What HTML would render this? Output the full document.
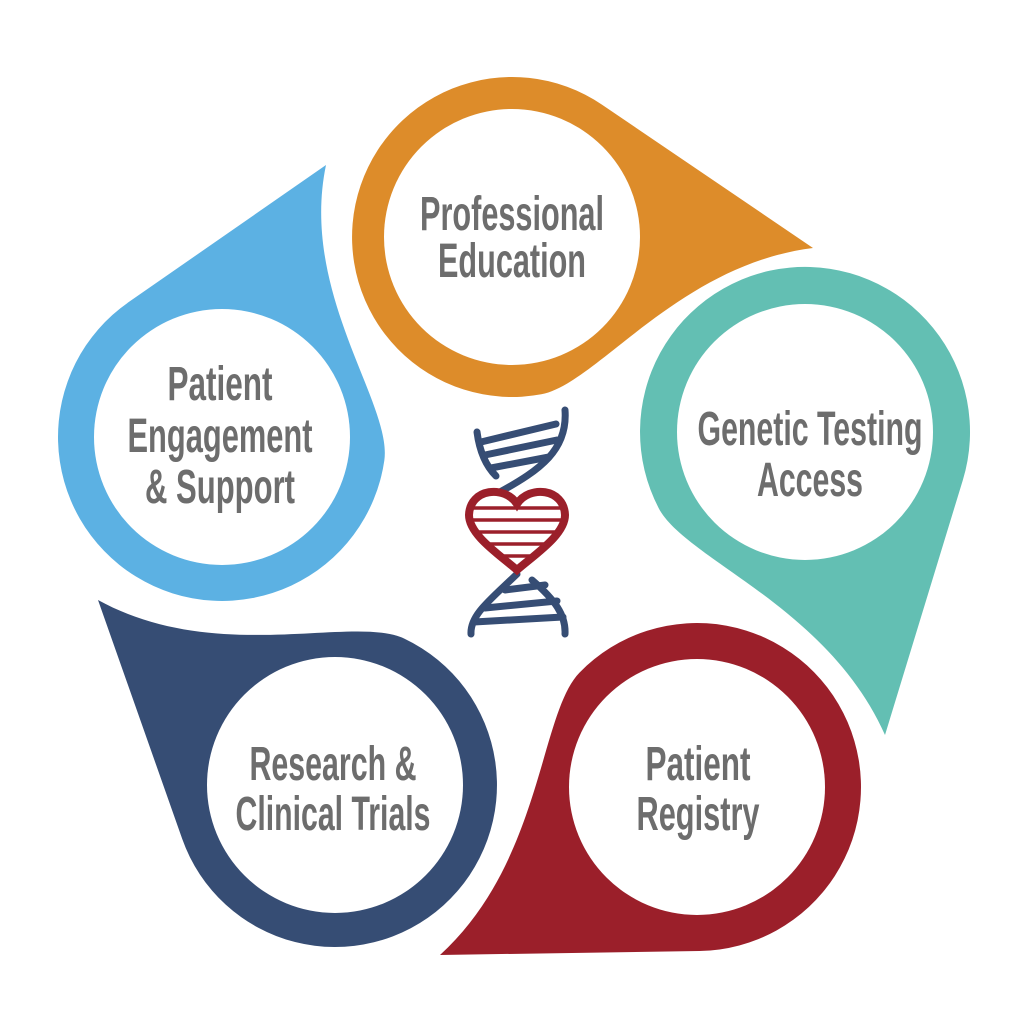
<!DOCTYPE html>
<html><head><meta charset="utf-8"><style>
html,body{margin:0;padding:0;background:#fff;width:1024px;height:1024px;overflow:hidden}
text{font-family:"Liberation Sans Narrow","Liberation Sans",sans-serif;font-weight:bold;fill:#6d6d6d;font-size:48px;text-anchor:middle}
</style></head><body>
<svg id="s" width="1024" height="1024" viewBox="0 0 1024 1024" xmlns="http://www.w3.org/2000/svg">
<g id="shapes"></g>
<g fill="none" stroke="#364d74" stroke-width="7" stroke-linecap="round">
<path d="M477,432 C480,455 488,468 496,476"/>
<path d="M565,410 C568,450 540,470 500,492"/>
<path d="M481,442 L556,424 M485,455 L557,440 M491,468 L549,457"/>
<path d="M517,574 C490,600 470,615 471,634"/>
<path d="M532,580 C555,600 566,615 565,634"/>
<path d="M505,590 L545,585 M485,608 L557,601 M474,622 L563,617"/>
</g>
<g>
<path d="M517,504 C505,485 470,488 469,515 C469,535 500,555 517,570 C534,555 565,535 565,515 C564,488 529,485 517,504 Z" fill="#fff" stroke="#9b1f2a" stroke-width="8"/>
<g stroke="#9b1f2a" stroke-width="3.5">
<line x1="472" y1="508" x2="562" y2="508"/><line x1="471" y1="520" x2="563" y2="520"/>
<line x1="474" y1="532" x2="560" y2="532"/><line x1="484" y1="544" x2="550" y2="544"/>
<line x1="496" y1="556" x2="538" y2="556"/>
</g></g>
<text x="512" y="230" textLength="184" lengthAdjust="spacingAndGlyphs">Professional</text>
<text x="512" y="277" textLength="148" lengthAdjust="spacingAndGlyphs">Education</text>
<text x="810" y="445" textLength="225" lengthAdjust="spacingAndGlyphs">Genetic Testing</text>
<text x="810" y="496" textLength="106" lengthAdjust="spacingAndGlyphs">Access</text>
<text x="698" y="780" textLength="105" lengthAdjust="spacingAndGlyphs">Patient</text>
<text x="698" y="830" textLength="123" lengthAdjust="spacingAndGlyphs">Registry</text>
<text x="333" y="780" textLength="167" lengthAdjust="spacingAndGlyphs">Research &amp;</text>
<text x="333" y="830" textLength="195" lengthAdjust="spacingAndGlyphs">Clinical Trials</text>
<text x="220" y="400" textLength="105" lengthAdjust="spacingAndGlyphs">Patient</text>
<text x="220" y="452" textLength="185" lengthAdjust="spacingAndGlyphs">Engagement</text>
<text x="220" y="503" textLength="150" lengthAdjust="spacingAndGlyphs">&amp; Support</text>
</svg>
<script>
var D=[[512,237,160,813,248,"#dd8c2a"],[805,432,165,885,735,"#63bfb3"],[697,787,164,440,955,"#9b1f2a"],[335,785,162,98,600,"#364d74"],[222,437,164,326,165,"#5cb1e3"]];
var g=document.getElementById("shapes"),h="";
function f(v){return v.toFixed(1)}
D.forEach(function(a){
 var cx=a[0],cy=a[1],r=a[2],tx=a[3],ty=a[4];
 var dx=tx-cx,dy=ty-cy,d=Math.hypot(dx,dy),th=Math.atan2(dy,dx);
 var al=Math.acos(r/d);
 var a1=th-al,a2=th+1.35;
 var p1=[cx+r*Math.cos(a1),cy+r*Math.sin(a1)];
 var p2=[cx+r*Math.cos(a2),cy+r*Math.sin(a2)];
 var bt=th+Math.PI-0.16;
 var c1=[tx+0.45*d*Math.cos(bt),ty+0.45*d*Math.sin(bt)];
 var tg=a2-Math.PI/2;
 var c2=[p2[0]+0.35*r*Math.cos(tg),p2[1]+0.35*r*Math.sin(tg)];
 h+='<path fill="'+a[5]+'" d="M'+f(p1[0])+','+f(p1[1])+' L'+tx+','+ty+' C'+f(c1[0])+','+f(c1[1])+' '+f(c2[0])+','+f(c2[1])+' '+f(p2[0])+','+f(p2[1])+' A'+r+','+r+' 0 1 1 '+f(p1[0])+','+f(p1[1])+' Z"/>';
 h+='<circle cx="'+cx+'" cy="'+cy+'" r="128" fill="#fff"/>';
});
g.innerHTML=h;
</script>
</body></html>
